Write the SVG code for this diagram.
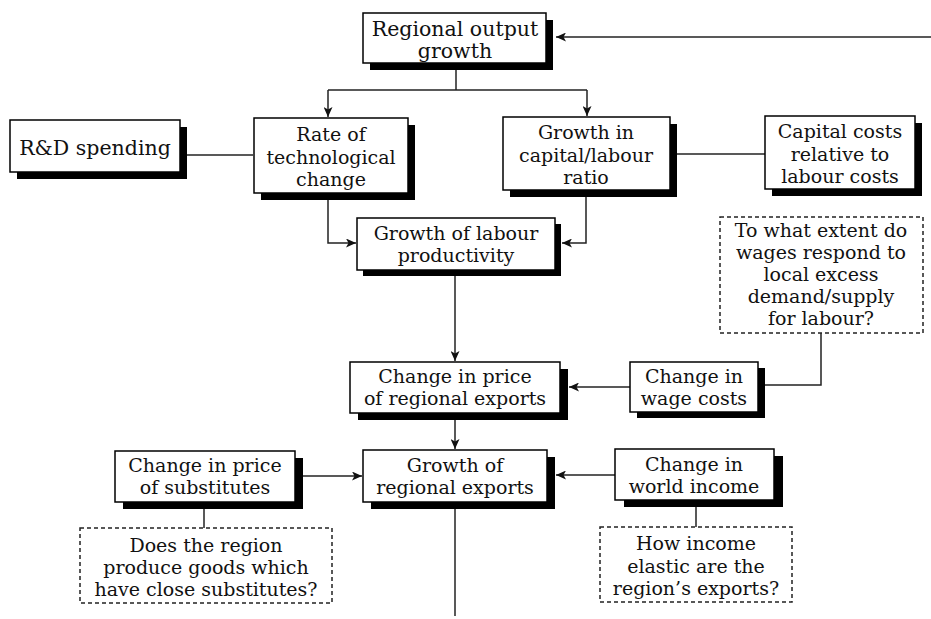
<svg xmlns="http://www.w3.org/2000/svg" width="931" height="619" viewBox="0 0 931 619">
<style>
.box{fill:#fff;stroke:#000;stroke-width:1.5}
.sh{fill:#000}
.dbox{fill:#fff;stroke:#222;stroke-width:1.5;stroke-dasharray:4 3}
.ln{fill:none;stroke:#222;stroke-width:1.5}
text{font-family:"DejaVu Serif","Liberation Serif",serif;font-size:19px;fill:#111;text-anchor:middle}
.big{font-size:20.5px}
</style>
<defs>
<marker id="ah" markerUnits="userSpaceOnUse" markerWidth="10" markerHeight="9" refX="10" refY="4.5" orient="auto">
<path d="M0,0 L10,4.5 L0,9 L2.5,4.5 z" fill="#111"/>
</marker>
</defs>
<rect width="931" height="619" fill="#fff"/>
<g id="connectors">
<path class="ln" d="M931,37 H556" marker-end="url(#ah)"/>
<path class="ln" d="M456,70 V90"/>
<path class="ln" d="M328,90 H587"/>
<path class="ln" d="M328,90 V117" marker-end="url(#ah)"/>
<path class="ln" d="M587,90 V116" marker-end="url(#ah)"/>
<path class="ln" d="M186,155 H253"/>
<path class="ln" d="M677,154 H765"/>
<path class="ln" d="M328,200 V243 H356" marker-end="url(#ah)"/>
<path class="ln" d="M586,197 V243 H562" marker-end="url(#ah)"/>
<path class="ln" d="M455,275 V361" marker-end="url(#ah)"/>
<path class="ln" d="M630,387 H569" marker-end="url(#ah)"/>
<path class="ln" d="M821,333 V385 H765"/>
<path class="ln" d="M455,420 V449" marker-end="url(#ah)"/>
<path class="ln" d="M303,476 H362" marker-end="url(#ah)"/>
<path class="ln" d="M615,475 H556" marker-end="url(#ah)"/>
<path class="ln" d="M204,509 V528"/>
<path class="ln" d="M696,507 V527"/>
<path class="ln" d="M455,508 V616"/>
</g>
<g id="regional-output-growth">
<rect class="sh" x="370" y="20" width="183" height="50"/>
<rect class="box" x="363" y="13" width="183" height="50"/>
<text class="big" x="455" y="36">Regional output</text>
<text class="big" x="455" y="58">growth</text>
</g>
<g id="rd-spending">
<rect class="sh" x="17" y="127" width="170" height="52"/>
<rect class="box" x="10" y="120" width="170" height="52"/>
<text class="big" x="95" y="155">R&amp;D spending</text>
</g>
<g id="rate-tech-change">
<rect class="sh" x="261" y="125" width="154" height="75"/>
<rect class="box" x="254" y="118" width="154" height="75"/>
<text x="331" y="141">Rate of</text>
<text x="331" y="164">technological</text>
<text x="331" y="186">change</text>
</g>
<g id="capital-labour-ratio">
<rect class="sh" x="510" y="124" width="167" height="73"/>
<rect class="box" x="503" y="117" width="167" height="73"/>
<text x="586" y="139">Growth in</text>
<text x="586" y="162">capital/labour</text>
<text x="586" y="184">ratio</text>
</g>
<g id="capital-costs">
<rect class="sh" x="772" y="123" width="150" height="73"/>
<rect class="box" x="765" y="116" width="150" height="73"/>
<text x="840" y="138">Capital costs</text>
<text x="840" y="161">relative to</text>
<text x="840" y="183">labour costs</text>
</g>
<g id="labour-productivity">
<rect class="sh" x="363" y="224" width="198" height="52"/>
<rect class="box" x="357" y="218" width="198" height="52"/>
<text x="456" y="240">Growth of labour</text>
<text x="456" y="262">productivity</text>
</g>
<g id="wage-response">
<rect class="dbox" x="720" y="217" width="203" height="116"/>
<text x="821" y="237">To what extent do</text>
<text x="821" y="259">wages respond to</text>
<text x="821" y="281">local excess</text>
<text x="821" y="303">demand/supply</text>
<text x="821" y="325">for labour?</text>
</g>
<g id="price-regional-exports">
<rect class="sh" x="358" y="369" width="210" height="51"/>
<rect class="box" x="350" y="362" width="210" height="51"/>
<text x="455" y="383">Change in price</text>
<text x="455" y="405">of regional exports</text>
</g>
<g id="wage-costs">
<rect class="sh" x="637" y="368" width="128" height="50"/>
<rect class="box" x="630" y="362" width="128" height="50"/>
<text x="694" y="383">Change in</text>
<text x="694" y="405">wage costs</text>
</g>
<g id="growth-regional-exports">
<rect class="sh" x="371" y="457" width="184" height="52"/>
<rect class="box" x="363" y="450" width="184" height="52"/>
<text x="455" y="472">Growth of</text>
<text x="455" y="494">regional exports</text>
</g>
<g id="price-substitutes">
<rect class="sh" x="123" y="458" width="180" height="51"/>
<rect class="box" x="115" y="451" width="180" height="51"/>
<text x="205" y="472">Change in price</text>
<text x="205" y="494">of substitutes</text>
</g>
<g id="world-income">
<rect class="sh" x="624" y="456" width="159" height="51"/>
<rect class="box" x="615" y="449" width="159" height="51"/>
<text x="694" y="471">Change in</text>
<text x="694" y="493">world income</text>
</g>
<g id="close-substitutes">
<rect class="dbox" x="80" y="528" width="252" height="75"/>
<text x="206" y="552">Does the region</text>
<text x="206" y="574">produce goods which</text>
<text x="206" y="596">have close substitutes?</text>
</g>
<g id="income-elastic">
<rect class="dbox" x="600" y="527" width="192" height="75"/>
<text x="696" y="550">How income</text>
<text x="696" y="573">elastic are the</text>
<text x="696" y="595">region’s exports?</text>
</g>
</svg>
